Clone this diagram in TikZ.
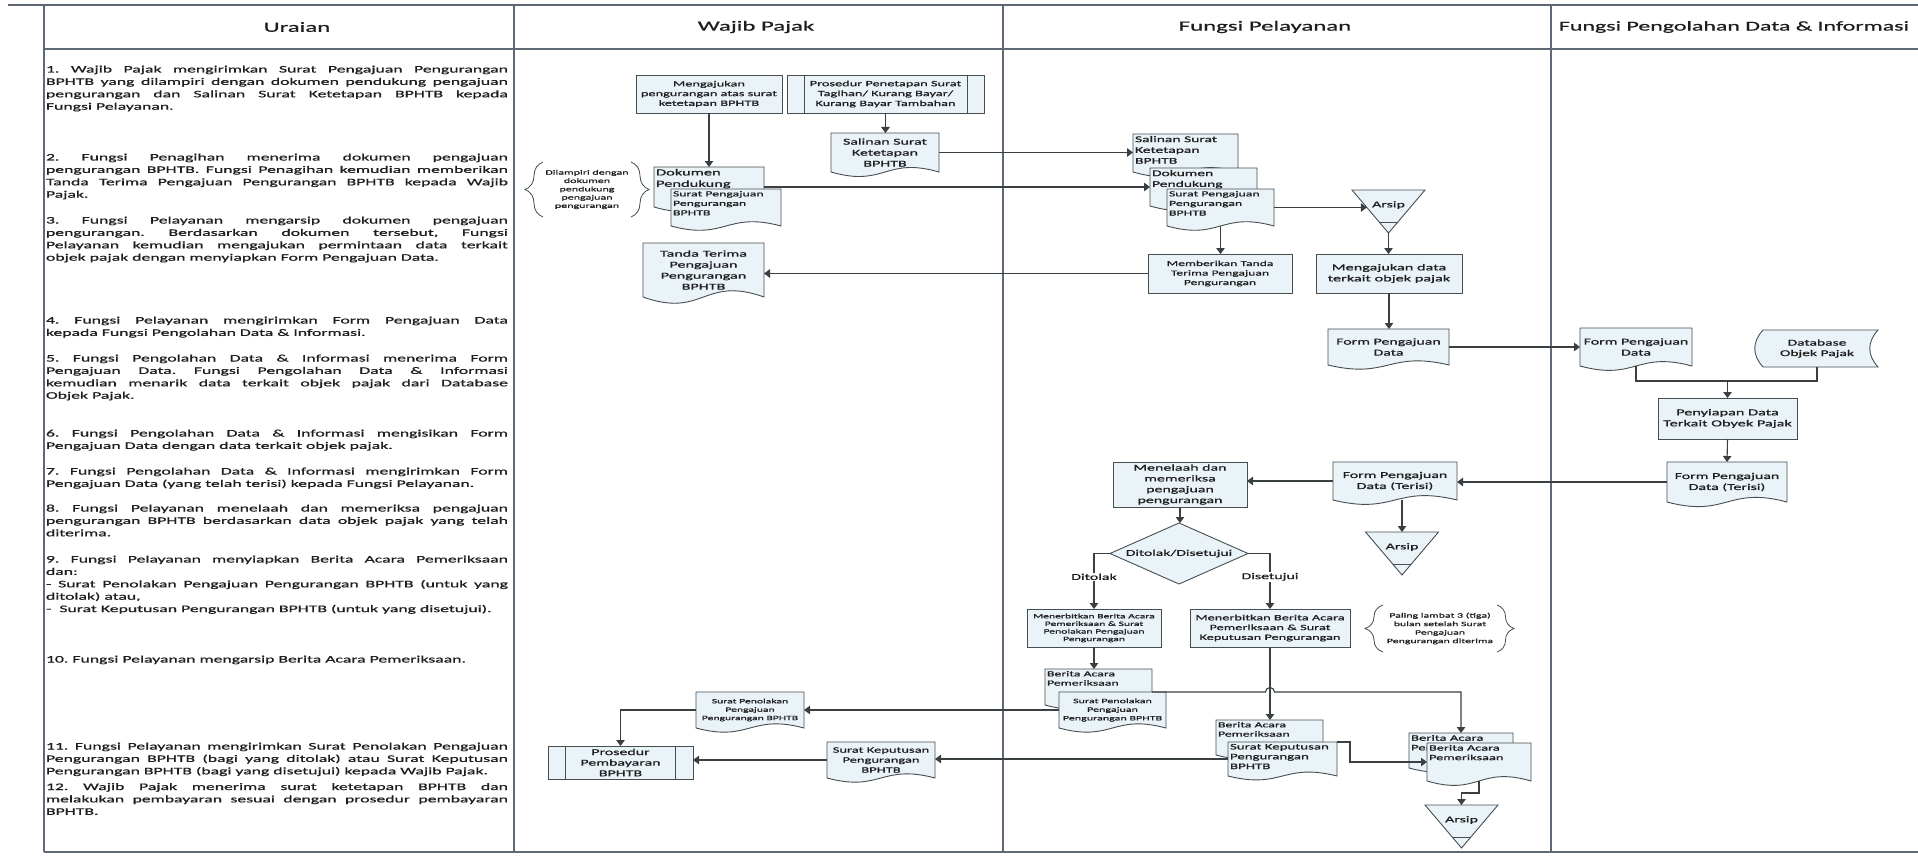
\documentclass[tikz,border=0pt]{standalone}
\usepackage{fontspec}
\setmainfont{Carlito}[FakeStretch=1.77,FakeBold=0.8]
\usetikzlibrary{arrows.meta,calc,decorations.pathreplacing}
\hyphenpenalty=10000
\exhyphenpenalty=10000
\tolerance=9999
\frenchspacing
\definecolor{fillc}{RGB}{234,244,248}
\definecolor{shapec}{RGB}{70,78,82}
\definecolor{linec}{RGB}{58,64,66}
\definecolor{tablec}{RGB}{95,105,118}
\definecolor{textc}{RGB}{30,30,30}
\newcommand{\fsz}[2]{\fontsize{#1}{#2}\selectfont}
\tikzset{
  shp/.style={draw=shapec,line width=0.9pt,fill=fillc},
  sl/.style={draw=shapec,line width=0.9pt},
  box/.style={draw=shapec,fill=fillc,line width=0.9pt,inner sep=0.5pt,outer sep=0pt,align=center,text=textc},
  docn/.style={inner sep=1pt,outer sep=0pt,align=center,text=textc},
  tlab/.style={anchor=north west,inner sep=1.8pt,align=left,text=textc},
  note/.style={inner sep=0pt,outer sep=0pt,align=center,text=textc},
  conn/.style={draw=linec,line width=1.1pt},
  arr/.style={conn,-{Triangle[width=8.5pt,length=6pt]}},
  lbl/.style={fill=white,inner sep=1pt,font=\fsz{9}{10},text=textc},
  brc/.style={draw=shapec,line width=0.8pt,decorate,decoration={brace,amplitude=#1}},
  tbl/.style={draw=tablec,line width=1.1pt},
  hdr/.style={font=\fsz{14}{17},text=textc,inner sep=0pt},
  para/.style={text width=462pt,align=justify,inner sep=0pt,outer sep=0pt,font=\fsz{10}{12.4}\frenchspacing,text=textc,anchor=base west}
}
\newcommand{\DocShape}[4]{%
  \pgfmathsetmacro\dxm{(#1+#3)/2}%
  \pgfmathsetmacro\dk{(#4-#2)*0.4}%
  \filldraw[shp] (#1,#2) -- (#3,#2) -- (#3,#4) .. controls (\dxm,#4-\dk) and (\dxm,#4+\dk) .. (#1,#4) -- cycle;%
}
\newcommand{\Doc}[7][]{%
  \DocShape{#3}{#4}{#5}{#6}%
  \node[docn,minimum width={#5-#3},minimum height={#6-#4},#1] (#2) at ({(#3+#5)/2},{(#4+#6)/2}) {#7};%
}
\newcommand{\Arsip}[3]{%
  \filldraw[shp] (#2-36.5,#3) -- (#2+36.5,#3) -- (#2,#3+43) -- cycle;%
  \draw[sl] (#2-9.3,#3+32) -- (#2+9.3,#3+32);%
  \node[note,minimum width=73pt,minimum height=43pt,label={[yshift=6.5pt,font=\fsz{9}{10},text=textc]center:Arsip}] (#1) at (#2,#3+21.5) {};%
}
\begin{document}
\begin{tikzpicture}[x=1pt,y=-1pt]
\useasboundingbox (0,0) rectangle (1918,856);
\fill[white] (0,0) rectangle (1918,856);

% ---------- table ----------
\draw[tbl,line width=1.8pt] (8,5) -- (1918,5);
\draw[tbl] (44,49) -- (1918,49);
\draw[tbl] (44,852) -- (1918,852);
\foreach \x in {44,514,1003,1551} \draw[tbl] (\x,5) -- (\x,852);
\node[hdr] (hU) at (297,27) {Uraian};
\node[hdr] (hW) at (756,27) {Wajib Pajak};
\node[hdr] (hF) at (1265,27) {Fungsi Pelayanan};
\node[hdr,font=\fsz{13.5}{17}] (hP) at (1734,27) {Fungsi Pengolahan Data \& Informasi};

% ---------- description ----------
\node[para] (p1) at (46,72.5) {1. Wajib Pajak mengirimkan Surat Pengajuan Pengurangan\linebreak BPHTB yang dilampiri dengan dokumen pendukung pengajuan\linebreak pengurangan dan Salinan Surat Ketetapan BPHTB kepada\linebreak Fungsi Pelayanan.};
\node[para] (p2) at (46,160.5) {2. Fungsi Penagihan menerima dokumen pengajuan\linebreak pengurangan BPHTB. Fungsi Penagihan kemudian memberikan\linebreak Tanda Terima Pengajuan Pengurangan BPHTB kepada Wajib\linebreak Pajak.};
\node[para] (p3) at (46,223.5) {3. Fungsi Pelayanan mengarsip dokumen pengajuan\linebreak pengurangan. Berdasarkan dokumen tersebut, Fungsi\linebreak Pelayanan kemudian mengajukan permintaan data terkait\linebreak objek pajak dengan menyiapkan Form Pengajuan Data.};
\node[para] (p4) at (46,323.5) {4. Fungsi Pelayanan mengirimkan Form Pengajuan Data\linebreak kepada Fungsi Pengolahan Data \& Informasi.};
\node[para] (p5) at (46,361.5) {5. Fungsi Pengolahan Data \& Informasi menerima Form\linebreak Pengajuan Data. Fungsi Pengolahan Data \& Informasi\linebreak kemudian menarik data terkait objek pajak dari Database\linebreak Objek Pajak.};
\node[para] (p6) at (46,436.5) {6. Fungsi Pengolahan Data \& Informasi mengisikan Form\linebreak Pengajuan Data dengan data terkait objek pajak.};
\node[para] (p7) at (46,474.5) {7. Fungsi Pengolahan Data \& Informasi mengirimkan Form\linebreak Pengajuan Data (yang telah terisi) kepada Fungsi Pelayanan.};
\node[para] (p8) at (46,511.5) {8. Fungsi Pelayanan menelaah dan memeriksa pengajuan\linebreak pengurangan BPHTB berdasarkan data objek pajak yang telah\linebreak diterima.};
\node[para] (p9) at (46,562.5) {9. Fungsi Pelayanan menyiapkan Berita Acara Pemeriksaan\linebreak dan:\newline - Surat Penolakan Pengajuan Pengurangan BPHTB (untuk yang\linebreak ditolak) atau,\newline -\ \ Surat Keputusan Pengurangan BPHTB (untuk yang disetujui).};
\node[para] (p10) at (46,662.5) {10. Fungsi Pelayanan mengarsip Berita Acara Pemeriksaan.};
\node[para] (p11) at (46,749.5) {11. Fungsi Pelayanan mengirimkan Surat Penolakan Pengajuan\linebreak Pengurangan BPHTB (bagi yang ditolak) atau Surat Keputusan\linebreak Pengurangan BPHTB (bagi yang disetujui) kepada Wajib Pajak.};
\node[para] (p12) at (46,790) {12. Wajib Pajak menerima surat ketetapan BPHTB dan\linebreak melakukan pembayaran sesuai dengan prosedur pembayaran\linebreak BPHTB.};

% ---------- Wajib Pajak ----------
\node[box,minimum width=146pt,minimum height=38pt,font=\fsz{8.1}{9.7}] (wp1) at (709,94) {Mengajukan\\pengurangan atas surat\\ketetapan BPHTB};
\node[box,minimum width=197pt,minimum height=38pt,font=\fsz{8.1}{9.9}] (wpPros) at (885.5,94) {Prosedur Penetapan Surat\\Tagihan/ Kurang Bayar/\\Kurang Bayar Tambahan};
\draw[sl] ([xshift=17pt]wpPros.north west) -- ([xshift=17pt]wpPros.south west);
\draw[sl] ([xshift=-17pt]wpPros.north east) -- ([xshift=-17pt]wpPros.south east);
\Doc[font=\fsz{9}{11}]{wpSal}{831}{133}{939}{172}{Salinan Surat\\Ketetapan\\BPHTB}
\Doc[label={[tlab,font=\fsz{9.3}{11.3}]north west:Dokumen\\Pendukung}]{wpDok}{654}{167}{764}{207}{}
\Doc[label={[tlab,font=\fsz{7.8}{9.5}]north west:Surat Pengajuan\\Pengurangan\\BPHTB}]{wpSP}{671}{189}{781}{226}{}
\node[note,minimum width=88pt,minimum height=55pt,font=\fsz{6.8}{8.3}] (wpNote) at (587,189.5) {Dilampiri dengan\\dokumen\\pendukung\\pengajuan\\pengurangan};
\draw[brc=18pt] (wpNote.south west) -- (wpNote.north west);
\draw[brc=18pt] (wpNote.north east) -- (wpNote.south east);
\Doc[font=\fsz{9.1}{11}]{wpTT}{643}{243}{764}{297}{Tanda Terima\\Pengajuan\\Pengurangan\\BPHTB}
\Doc[font=\fsz{6.6}{8.4}]{wpSPen}{696}{692}{804}{728}{Surat Penolakan\\Pengajuan\\Pengurangan BPHTB}
\node[box,minimum width=145pt,minimum height=33pt,font=\fsz{9}{10.6}] (wpPP) at (620.5,762.5) {Prosedur\\Pembayaran\\BPHTB};
\draw[sl] ([xshift=17pt]wpPP.north west) -- ([xshift=17pt]wpPP.south west);
\draw[sl] ([xshift=-18pt]wpPP.north east) -- ([xshift=-18pt]wpPP.south east);
\Doc[font=\fsz{8.2}{10}]{wpSK}{827}{742}{935}{778}{Surat Keputusan\\Pengurangan\\BPHTB}

% ---------- Fungsi Pelayanan ----------
\Doc[label={[tlab,font=\fsz{8.8}{10.8}]north west:Salinan Surat\\Ketetapan\\BPHTB}]{fpSal}{1133}{134}{1238}{172}{}
\Doc[label={[tlab,font=\fsz{8.8}{10.8}]north west:Dokumen\\Pendukung}]{fpDok}{1150}{168}{1257}{206}{}
\Doc[label={[tlab,font=\fsz{7.8}{9.6}]north west:Surat Pengajuan\\Pengurangan\\BPHTB}]{fpSP}{1167}{189}{1274}{226}{}
\Arsip{fpArs1}{1388.5}{190}
\node[box,minimum width=144pt,minimum height=39pt,font=\fsz{7.7}{9.5}] (fpMT) at (1220,273.5) {Memberikan Tanda\\Terima Pengajuan\\Pengurangan};
\node[box,minimum width=146pt,minimum height=39pt,font=\fsz{9.2}{11}] (fpMD) at (1389,273.5) {Mengajukan data\\terkait objek pajak};
\Doc[font=\fsz{9}{11}]{fpForm}{1328}{329}{1449}{365}{Form Pengajuan\\Data}
\node[box,minimum width=134pt,minimum height=45pt,font=\fsz{9}{10.8}] (fpMen) at (1180,484.5) {Menelaah dan\\memeriksa\\pengajuan\\pengurangan};
\Doc[font=\fsz{9}{11}]{fpFT}{1333}{462}{1457}{500}{Form Pengajuan\\Data (Terisi)}
\Arsip{fpArs2}{1402}{532}
\filldraw[shp] (1179,523) -- (1248,553.5) -- (1179,584) -- (1110,553.5) -- cycle;
\node[note,minimum width=138pt,minimum height=61pt,font=\fsz{8.8}{10}] (fpDec) at (1179,553.5) {Ditolak/Disetujui};
\node[box,minimum width=134pt,minimum height=38pt,font=\fsz{6.6}{7.6}] (fpTol) at (1094,628) {Menerbitkan Berita Acara\\Pemeriksaan \& Surat\\Penolakan Pengajuan\\Pengurangan};
\node[box,minimum width=160pt,minimum height=38pt,font=\fsz{8.1}{9.8}] (fpSet) at (1270,628) {Menerbitkan Berita Acara\\Pemeriksaan \& Surat\\Keputusan Pengurangan};
\node[note,minimum width=114pt,minimum height=47pt,font=\fsz{6.7}{8.5}] (fpNote) at (1440,628.5) {Paling lambat 3 (tiga)\\bulan setelah Surat\\Pengajuan\\Pengurangan diterima};
\draw[brc=18pt] (fpNote.south west) -- (fpNote.north west);
\draw[brc=17pt] (fpNote.north east) -- (fpNote.south east);
\Doc[label={[tlab,font=\fsz{7.8}{9.2}]north west:Berita Acara\\Pemeriksaan}]{fpBA1}{1045}{669}{1152}{705}{}
\Doc[font=\fsz{6.8}{8.6}]{fpSPen}{1059}{692}{1166}{728}{Surat Penolakan\\Pengajuan\\Pengurangan BPHTB}
\Doc[label={[tlab,font=\fsz{7.8}{9.2}]north west:Berita Acara\\Pemeriksaan}]{fpBA2}{1216}{720}{1323}{755}{}
\Doc[label={[tlab,font=\fsz{8.4}{9.8}]north west:Surat Keputusan\\Pengurangan\\BPHTB}]{fpSK}{1228}{742}{1337}{776}{}
\Doc[label={[tlab,font=\fsz{8.3}{9.6}]north west:Berita Acara\\Pemeriksaan}]{fpBA3}{1409}{733}{1513}{768}{}
\Doc[label={[tlab,font=\fsz{8.1}{9.6}]north west:Berita Acara\\Pemeriksaan}]{fpBA4}{1427}{743}{1531}{781}{}
\Arsip{fpArs3}{1461.5}{805}

% ---------- Pengolahan Data ----------
\Doc[font=\fsz{9}{11}]{pdForm}{1580}{328}{1692}{366}{Form Pengajuan\\Data}
\filldraw[shp] (1763,330) -- (1878,330) .. controls (1867,342) and (1867,355) .. (1878,367) -- (1763,367) .. controls (1752,355) and (1752,342) .. (1763,330) -- cycle;
\node[note,minimum width=122pt,minimum height=37pt,font=\fsz{8.8}{10.5}] (pdDB) at (1817,348.5) {Database\\Objek Pajak};
\node[box,minimum width=139pt,minimum height=41pt,font=\fsz{9.2}{11}] (pdPen) at (1727.5,418.5) {Penyiapan Data\\Terkait Obyek Pajak};
\Doc[font=\fsz{9}{11}]{pdFT}{1667}{462}{1787}{502}{Form Pengajuan\\Data (Terisi)}

% ---------- connectors ----------
\draw[arr] (wp1.south) -- (wp1.south |- wpDok.north);
\draw[arr] (wpPros.south) -- (wpPros.south |- wpSal.north);
\draw[arr] (wpSal.east) -- (wpSal.east -| fpSal.west);
\draw[arr] (wpDok.east) -- (wpDok.east -| fpDok.west);
\coordinate (a1in) at ($(fpArs1.north west)!0.407!(fpArs1.south)$);
\draw[arr] (fpSP.east) -- (fpSP.east -| a1in);
\draw[arr] (fpSP.south) -- (fpSP.south |- fpMT.north);
\draw[arr] (fpMT.west) -- (fpMT.west -| wpTT.east);
\draw[arr] (fpArs1.south) -- (fpArs1.south |- fpMD.north);
\draw[arr] (fpMD.south) -- (fpMD.south |- fpForm.north);
\draw[arr] (fpForm.east) -- (fpForm.east -| pdForm.west);
\coordinate (j1) at ($(pdPen.north)+(0,-17)$);
\draw[conn] (pdForm.south) |- (j1) -| (pdDB.south);
\draw[arr] (j1) -- (pdPen.north);
\draw[arr] (pdPen.south) -- (pdFT.north);
\draw[arr] (pdFT.west) -- (pdFT.west -| fpFT.east);
\draw[arr] (fpFT.west) -- (fpFT.west -| fpMen.east);
\draw[arr] (fpArs2.north |- fpFT.south) -- (fpArs2.north);
\draw[arr] (fpMen.south) -- (fpMen.south |- fpDec.north);
\draw[arr] (fpDec.west) -| node[lbl,pos=0.71]{Ditolak} (fpTol.north);
\draw[arr] (fpDec.east) -| node[lbl,pos=0.71]{Disetujui} (fpSet.north);
\draw[arr] (fpTol.south) -- (fpTol.south |- fpBA1.north);
\draw[arr] (fpSet.south) -- (fpSet.south |- fpBA2.north);
\draw[arr] (fpSPen.north -| fpBA1.east) -- ($(fpSPen.north -| fpSet.south)+(-4.5,0)$) arc[start angle=180,end angle=360,radius=4.5] -| (fpBA3.north);
\draw[arr] (fpSPen.west) -- (fpSPen.west -| wpSPen.east);
\draw[arr] (wpSPen.west) -| (wpPP.north);
\draw[arr] (fpSK.west) -- (fpSK.west -| wpSK.east);
\draw[arr] (wpSK.west) -- (wpSK.west -| wpPP.east);
\draw[arr] (fpSK.north east) -- ++(13,0) |- (fpBA4.west);
\draw[arr] (fpBA4.south) -- ++(0,12) -| (fpArs3.north);
\end{tikzpicture}
\end{document}
